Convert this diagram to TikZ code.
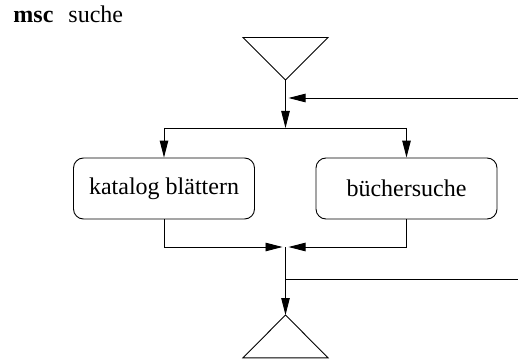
\documentclass[tikz,border=0pt]{standalone}
\usepackage{fontspec}
\setmainfont{Liberation Serif}
\usetikzlibrary{arrows.meta}
\begin{document}
\begin{tikzpicture}[x=1pt,y=-1pt,line width=0.9pt,
  every node/.style={font=\fontsize{24}{28}\selectfont},
  proc/.style={draw,rounded corners=10pt,minimum width=181pt,minimum height=61pt,inner sep=0pt},
  flow/.style={-{Triangle[length=17pt,width=8.5pt]}}]
\useasboundingbox (0,0) rectangle (518,358);
% title
\node[anchor=base west,inner sep=0pt] (title) at (13,23) {\textbf{msc}\hspace{15pt}suche};
% top triangle
\coordinate (topapex) at (285.5,80);
\draw (243,37.5) -- (328,37.5) -- (topapex) -- cycle;
% bottom triangle
\coordinate (botapex) at (285.5,315);
\draw (botapex) -- (328,357.8) -- (243,357.8) -- cycle;
% boxes
\node[proc] (kat) at (164,188.5) {katalog blättern};
\node[proc] (buch) at (406.5,188.5) {büchersuche};
% junctions
\coordinate (split) at (285.5,128);
\coordinate (join) at (285.5,247);
\coordinate (loopin) at (518,98);
\coordinate (loopout) at (518,279);
\coordinate (loopoutstart) at (285.5,279);
% top flow
\draw[flow] (topapex) -- (split);
\draw[flow] (loopin) -- ([xshift=3pt]split |- loopin);
\draw (kat.north |- split) -- (buch.north |- split);
\draw[flow] (kat.north |- split) -- (kat.north);
\draw[flow] (buch.north |- split) -- (buch.north);
% bottom flow
\draw[flow] (kat.south) |- ([xshift=-3pt]join);
\draw[flow] (buch.south) |- ([xshift=3pt]join);
\draw[flow] (join) -- (botapex);
\draw (loopoutstart) -- (loopout);
\end{tikzpicture}
\end{document}
